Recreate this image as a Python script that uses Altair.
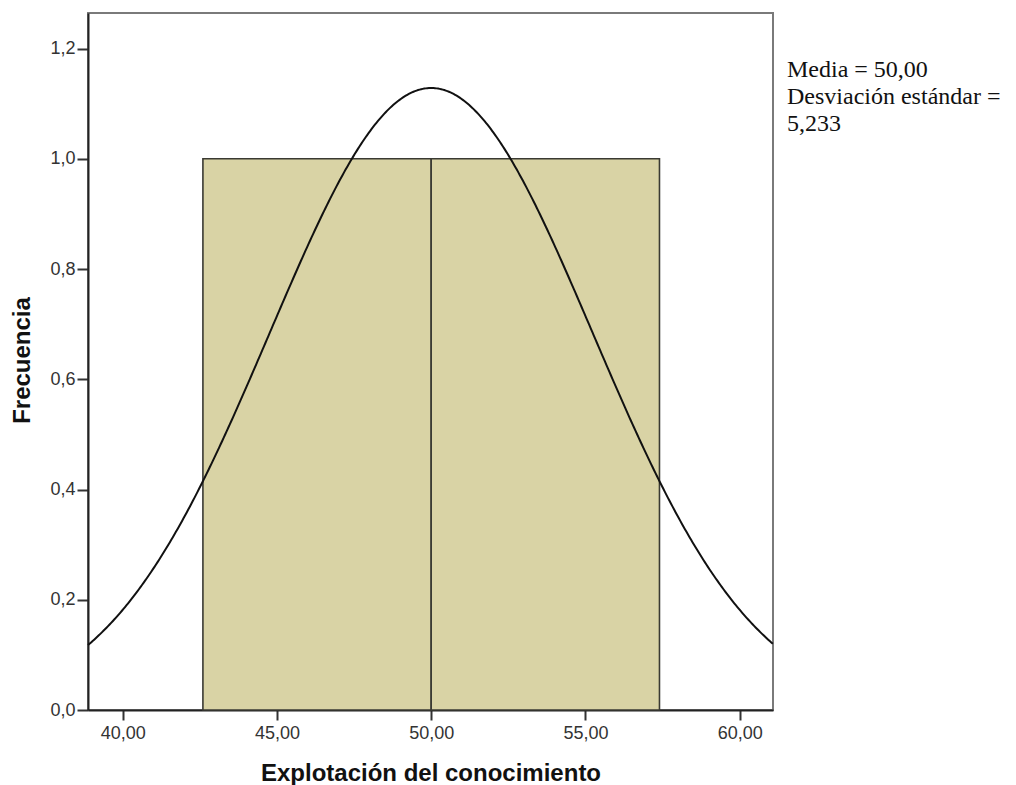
import altair as alt
import pandas as pd

# Histogram bins
bin_start = [42.6, 50.0]
bin_end = [50.0, 57.4]
frequency = [1, 1]

# Summary statistics shown in the chart
n_cases = 2
mean_value = 50.00
sd_value = 5.233
bin_width = 7.4

x_domain = [38.875, 61.08]
y_domain = [0, 1.2644]
x_ticks = [40, 45, 50, 55, 60]
y_ticks = [0.0, 0.2, 0.4, 0.6, 0.8, 1.0, 1.2]

stat_lines = ["Media = 50,00", "Desviación estándar =", "5,233"]

bars_df = pd.DataFrame({"start": bin_start, "end": bin_end, "freq": frequency})

x_scale = alt.Scale(domain=x_domain, nice=False, zero=False)
y_scale = alt.Scale(domain=y_domain, nice=False, zero=True)

x_axis = alt.Axis(
    title="Explotación del conocimiento",
    values=x_ticks,
    labelExpr="replace(format(datum.value, '.2f'), '.', ',')",
    grid=False,
    tickSize=10,
    tickWidth=2,
    tickColor="#333333",
    domainColor="#222222",
    domainWidth=2,
    labelFontSize=18,
    labelColor="#333333",
    labelFont="Liberation Sans",
    labelPadding=4,
    titleFont="Liberation Sans",
    titleFontSize=24,
    titleFontWeight="bold",
    titleColor="#111111",
    titleY=70,
    titleBaseline="alphabetic",
)

y_axis = alt.Axis(
    title="Frecuencia",
    values=y_ticks,
    labelExpr="replace(format(datum.value, '.1f'), '.', ',')",
    grid=False,
    tickSize=11,
    tickWidth=2,
    tickColor="#333333",
    domainColor="#222222",
    domainWidth=2,
    labelFontSize=18,
    labelColor="#333333",
    labelFont="Liberation Sans",
    labelPadding=2,
    titleFont="Liberation Sans",
    titleFontSize=24,
    titleFontWeight="bold",
    titleColor="#111111",
    titleX=-59,
    titleY=347,
    titleAlign="center",
    titleBaseline="alphabetic",
)

bars = alt.Chart(bars_df).mark_rect(
    fill="#D9D3A5", stroke="#3a3a33", strokeWidth=1.6
).encode(
    x=alt.X("start:Q", scale=x_scale, axis=x_axis),
    x2="end:Q",
    y=alt.Y("freq:Q", scale=y_scale, axis=y_axis),
    y2=alt.datum(0),
)

curve = alt.Chart(alt.sequence(x_domain[0], x_domain[1] + 0.01, 0.05, as_="x")).transform_calculate(
    density=f"{n_cases} * {bin_width} * exp(-0.5 * pow((datum.x - {mean_value}) / {sd_value}, 2)) / ({sd_value} * sqrt(2 * PI))"
).mark_line(color="#111111", strokeWidth=2).encode(
    x=alt.X("x:Q", scale=x_scale),
    y=alt.Y("density:Q", scale=y_scale),
)

stats_text = alt.Chart(pd.DataFrame({"t": ["\n".join(stat_lines)]})).mark_text(
    align="left",
    baseline="alphabetic",
    font="Liberation Serif",
    fontSize=24,
    color="#111111",
    lineBreak="\n",
    lineHeight=27,
).encode(
    x=alt.value(699),
    y=alt.value(64),
    text="t:N",
)

chart = alt.layer(bars, curve, stats_text).properties(
    width=685,
    height=697,
    padding={"left": 80, "top": 5, "right": 235, "bottom": 75},
    autosize="none",
    background="white",
).configure_view(
    stroke="#7a7a7a",
    strokeWidth=2,
)

chart.save("out.html", embed_options={"renderer": "svg", "actions": False})
